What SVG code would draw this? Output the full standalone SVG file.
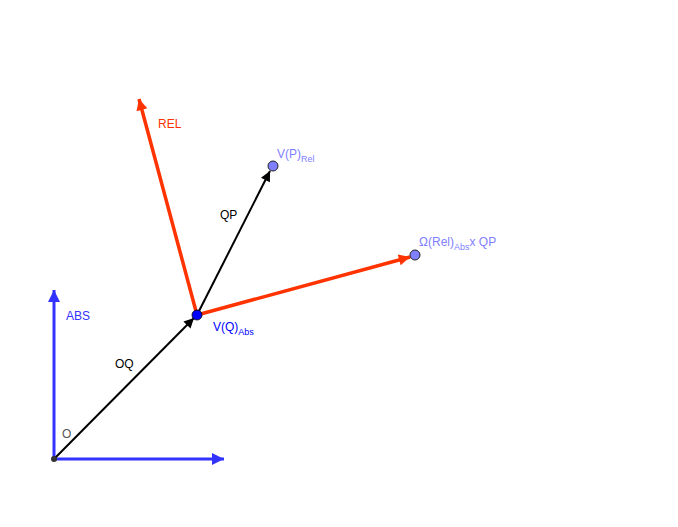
<svg xmlns="http://www.w3.org/2000/svg" width="678" height="527" viewBox="0 0 678 527">
<style>
text{font-family:"Liberation Sans",Arial,sans-serif;font-size:12px}
.sub{font-size:9px}
.blue{stroke:#3333ff;stroke-width:3;fill:none}
.red{stroke:#ff3300;stroke-width:3.5;fill:none}
.blk{stroke:#000;stroke-width:2;fill:none}
</style>
<defs>
<marker id="ab" viewBox="0 0 10 10" refX="10" refY="5" markerWidth="6" markerHeight="4" markerUnits="strokeWidth" orient="auto"><path d="M0,0L10,5L0,10z" fill="#3333ff"/></marker>
<marker id="ar" viewBox="0 0 10 10" refX="10" refY="5" markerWidth="4.5" markerHeight="3.2" markerUnits="strokeWidth" orient="auto"><path d="M0,0L10,5L0,10z" fill="#ff3300"/></marker>
<marker id="ak" viewBox="0 0 10 10" refX="10" refY="5" markerWidth="7" markerHeight="5" markerUnits="strokeWidth" orient="auto"><path d="M0,0L10,5L0,10z" fill="#000"/></marker>
</defs>
<rect width="678" height="527" fill="#fff"/>
<g id="connectors">
<line class="blue" x1="54" y1="459" x2="224" y2="459" marker-end="url(#ab)"/>
<line class="blue" x1="54" y1="459" x2="54" y2="290" marker-end="url(#ab)"/>
<line class="blk" x1="54" y1="459" x2="194" y2="318" marker-end="url(#ak)"/>
<line class="red" x1="197" y1="315" x2="139" y2="99" marker-end="url(#ar)"/>
<line class="red" x1="197" y1="315" x2="410" y2="257" marker-end="url(#ar)"/>
<line class="blk" x1="197" y1="315" x2="270" y2="171" marker-end="url(#ak)"/>
</g>
<g id="O"><circle cx="54" cy="459" r="3" fill="#333"/><text x="62" y="438" fill="#555">O</text></g>
<g id="Q"><circle cx="197" cy="315" r="5" fill="#0000ff" stroke="#000" stroke-width="0.8"/><text x="213" y="331" fill="#0000ff">V(Q)<tspan class="sub" dy="4">Abs</tspan></text></g>
<g id="P"><circle cx="273" cy="166" r="5" fill="#7f7fff" stroke="#222" stroke-width="1"/><text x="277" y="158" fill="#7f7fff">V(P)<tspan class="sub" dy="4">Rel</tspan></text></g>
<g id="W"><circle cx="415" cy="255" r="5" fill="#7f7fff" stroke="#222" stroke-width="1"/><text x="419" y="246" fill="#7f7fff">Ω(Rel)<tspan class="sub" dy="4">Abs</tspan><tspan dy="-4">x QP</tspan></text></g>
<g id="labels">
<text x="158" y="128" fill="#ff3300">REL</text>
<text x="66" y="320" fill="#3333ff">ABS</text>
<text x="115" y="368" fill="#000">OQ</text>
<text x="220" y="219" fill="#000">QP</text>
</g>
</svg>
